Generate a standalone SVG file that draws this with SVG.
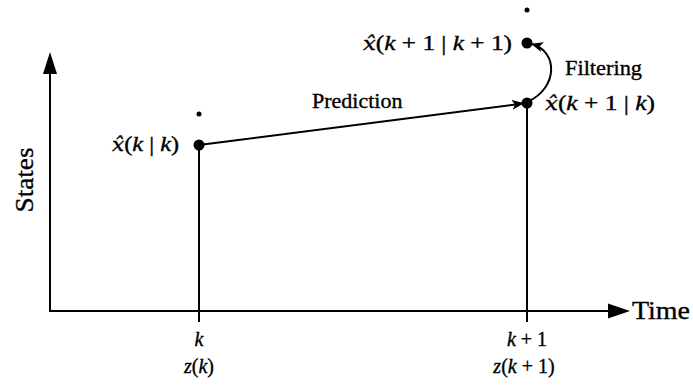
<svg xmlns="http://www.w3.org/2000/svg" width="693" height="385" viewBox="0 0 693 385">
<style>
.ln{stroke:#000;stroke-width:2;fill:none}
.dot{fill:#000}
text{font-family:"Liberation Serif","Times New Roman",serif;fill:#000;stroke:#000;stroke-width:0.35}
.m{font-size:20px}
.i{font-style:italic}
.xh{font-family:"DejaVu Serif",serif;font-style:italic;font-size:18px}
</style>
<defs>
<marker id="ah" viewBox="0 0 12 10" refX="11" refY="5" markerWidth="12" markerHeight="10" markerUnits="userSpaceOnUse" orient="auto">
<path d="M0,0 L12,5 L0,10 L3,5 Z" fill="#000"/>
</marker>
</defs>
<rect width="693" height="385" fill="#fff"/>
<g id="axes">
<line class="ln" x1="50" y1="311" x2="50" y2="70"/>
<path d="M50,52 L57,74 L43,74 Z" fill="#000"/>
<line class="ln" x1="49" y1="311" x2="610" y2="311"/>
<path d="M630,311 L608,303.5 L608,318.5 Z" fill="#000"/>
<text x="632" y="319" font-size="25" textLength="58" lengthAdjust="spacingAndGlyphs">Time</text>
<text transform="translate(33,180) rotate(-90)" text-anchor="middle" font-size="25" textLength="65" lengthAdjust="spacingAndGlyphs">States</text>
</g>
<g id="node-k">
<line class="ln" x1="199" y1="145" x2="199" y2="322"/>
<circle class="dot" cx="199" cy="145" r="5.5"/>
<circle class="dot" cx="199" cy="114" r="2.5"/>
<text class="m" x="112" y="151" textLength="67" lengthAdjust="spacingAndGlyphs"><tspan class="xh">x̂</tspan>(<tspan class="i">k</tspan> | <tspan class="i">k</tspan>)</text>
<text class="m i" x="199" y="346" text-anchor="middle">k</text>
<text class="m" x="199" y="373" text-anchor="middle"><tspan class="i">z</tspan>(<tspan class="i">k</tspan>)</text>
</g>
<g id="node-k1">
<line class="ln" x1="527" y1="103" x2="527" y2="322"/>
<circle class="dot" cx="527" cy="103" r="5.5"/>
<text class="m" x="545" y="110" textLength="110" lengthAdjust="spacingAndGlyphs"><tspan class="xh">x̂</tspan>(<tspan class="i">k</tspan> + 1 | <tspan class="i">k</tspan>)</text>
<text class="m" x="527" y="346" text-anchor="middle"><tspan class="i">k</tspan> + 1</text>
<text class="m" x="524" y="373" text-anchor="middle"><tspan class="i">z</tspan>(<tspan class="i">k</tspan> + 1)</text>
</g>
<g id="node-k1k1">
<circle class="dot" cx="527" cy="43" r="5.5"/>
<circle class="dot" cx="527" cy="10" r="2.5"/>
<text class="m" x="363" y="50" textLength="149" lengthAdjust="spacingAndGlyphs"><tspan class="xh">x̂</tspan>(<tspan class="i">k</tspan> + 1 | <tspan class="i">k</tspan> + 1)</text>
</g>
<g id="connectors">
<line class="ln" x1="199" y1="145" x2="523" y2="103.5" marker-end="url(#ah)"/>
<text x="312" y="108" font-size="22">Prediction</text>
<path class="ln" d="M529,101 C557,88 559,52 532,44" marker-end="url(#ah)"/>
<text x="565" y="75" font-size="21" textLength="77" lengthAdjust="spacingAndGlyphs">Filtering</text>
</g>
</svg>
